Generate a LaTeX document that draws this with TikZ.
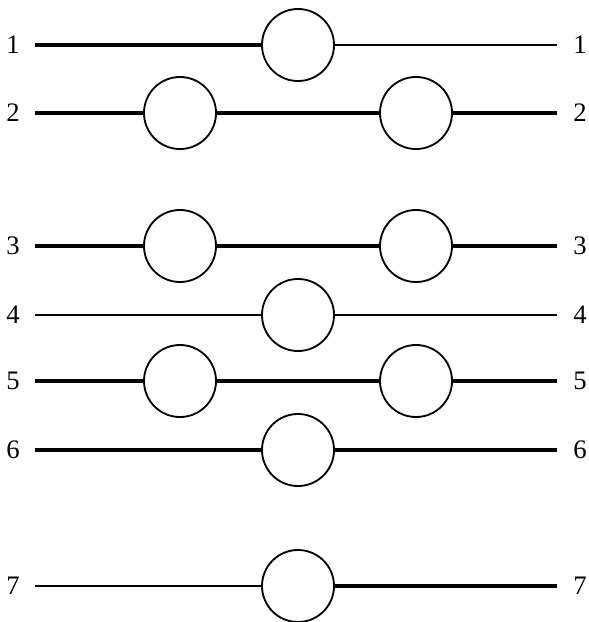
\documentclass[tikz,border=0pt]{standalone}
\usepackage{fontspec}
\setmainfont{Liberation Serif}
\usetikzlibrary{positioning}
\tikzset{
  ring/.style={draw,circle,line width=1.3pt,minimum size=1.8cm,inner sep=0pt},
  lead/.style={line width=2.4pt},
  thinlead/.style={line width=1.7pt},
  tag/.style={font=\fontsize{19}{22}\selectfont,inner sep=0pt}
}
\begin{document}
\begin{tikzpicture}[x=0.025cm,y=-0.025cm]
  \useasboundingbox (0,0) rectangle (589,622);
  \foreach \n/\y in {1/45,2/113,3/246,4/315,5/381,6/450,7/586}{
    \node[tag] (l\n) at (13,\y) {\n};
    \node[tag] (r\n) at (580,\y) {\n};
    \coordinate (a\n) at (35,\y);
    \coordinate (b\n) at (557,\y);
  }
  \foreach \n/\y in {1/45,4/315,6/450,7/586}
    \node[ring] (m\n) at (298,\y) {};
  \foreach \n/\y in {2/113,3/246,5/381}{
    \node[ring] (p\n) at (180,\y) {};
    \node[ring] (q\n) at (416,\y) {};
  }
  \draw[lead] (a1) -- (m1);
  \draw[thinlead] (m1) -- (b1);
  \foreach \n in {2,3,5}
    \draw[lead] (a\n) -- (p\n) (p\n) -- (q\n) (q\n) -- (b\n);
  \draw[thinlead] (a4) -- (m4) (m4) -- (b4);
  \draw[lead] (a6) -- (m6) (m6) -- (b6);
  \draw[thinlead] (a7) -- (m7);
  \draw[lead] (m7) -- (b7);
\end{tikzpicture}
\end{document}
